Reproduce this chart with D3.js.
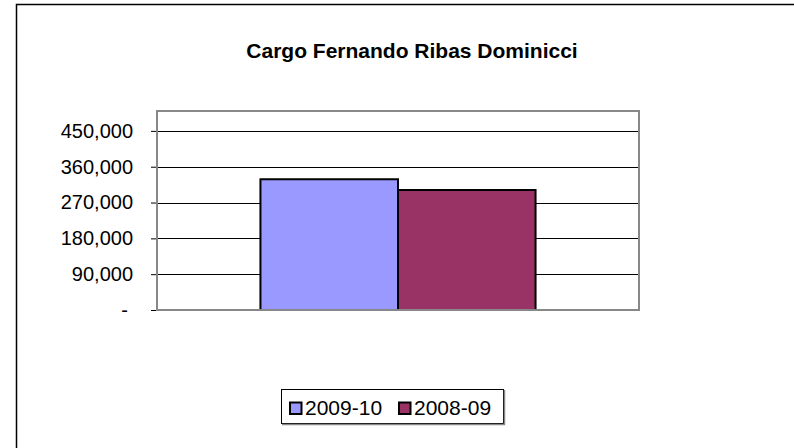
<!DOCTYPE html>
<meta charset="utf-8" />
<script src="https://d3js.org/d3.v7.min.js"></script>
<body style="margin:0;background:#fff">
  <div id="chart"></div>
  <script>
    // data
    var categories = ["Cargo"];
    var seriesNames = ["2009-10", "2008-09"];
    var seriesValues = [328500, 301500];
    var seriesColors = ["#9999ff", "#993366"];
    var yTicks = [0, 90000, 180000, 270000, 360000, 450000];

    var W = 794, H = 448;
    var plot = { left: 157, top: 111, right: 639, bottom: 310 };

    var svg = d3.select("#chart").append("svg")
      .attr("width", W).attr("height", H)
      .style("font-family", "'Liberation Sans', Arial, sans-serif");

    // outer chart border
    svg.append("rect")
      .attr("x", 16.5).attr("y", 4.5)
      .attr("width", 800).attr("height", 460)
      .attr("fill", "none").attr("stroke", "#000").attr("stroke-width", 1.5);

    svg.append("text")
      .attr("x", 412).attr("y", 58)
      .attr("text-anchor", "middle")
      .style("font-size", "21px").style("font-weight", "bold")
      .text("Cargo Fernando Ribas Dominicci");

    var y = d3.scaleLinear().domain([0, 500000]).range([plot.bottom, plot.top]);
    var x0 = d3.scaleBand().domain(categories).range([plot.left, plot.right]).paddingInner(0).paddingOuter(0.376);
    var x1 = d3.scaleBand().domain(seriesNames).range([0, x0.bandwidth()]);

    // gridlines
    svg.append("g").selectAll("line")
      .data(yTicks.filter(function (d) { return d > 0; }))
      .enter().append("line")
      .attr("x1", plot.left).attr("x2", plot.right)
      .attr("y1", function (d) { return Math.round(y(d)) + 0.5; })
      .attr("y2", function (d) { return Math.round(y(d)) + 0.5; })
      .attr("stroke", "#000").attr("stroke-width", 1);

    // y axis
    var yAxis = d3.axisLeft(y).tickValues(yTicks).tickSize(6).tickPadding(18)
      .tickFormat(function (d) { return d === 0 ? "-" : d3.format(",")(d); });
    var ga = svg.append("g").attr("transform", "translate(" + plot.left + ",0)").call(yAxis);
    ga.select(".domain").remove();
    ga.selectAll("line").attr("stroke", "#000");
    ga.selectAll("text").style("font-size", "20px").attr("fill", "#000");
    ga.selectAll(".tick").filter(function (d) { return d === 0; }).select("text").attr("dx", "-5");

    // bars
    svg.append("g").selectAll("rect")
      .data(seriesValues)
      .enter().append("rect")
      .attr("x", function (d, i) { return x0(categories[0]) + x1(seriesNames[i]); })
      .attr("y", function (d) { return y(d); })
      .attr("width", x1.bandwidth())
      .attr("height", function (d) { return plot.bottom - y(d); })
      .attr("fill", function (d, i) { return seriesColors[i]; })
      .attr("stroke", "#000").attr("stroke-width", 2);

    // plot area border
    svg.append("rect")
      .attr("x", plot.left).attr("y", plot.top)
      .attr("width", plot.right - plot.left).attr("height", plot.bottom - plot.top)
      .attr("fill", "none").attr("stroke", "#888").attr("stroke-width", 2);

    // legend
    var lg = svg.append("g");
    lg.append("rect")
      .attr("x", 281.5).attr("y", 389.5).attr("width", 222).attr("height", 34)
      .attr("fill", "#fff").attr("stroke", "#000").attr("stroke-width", 1);
    lg.append("line").attr("x1", 282).attr("x2", 505).attr("y1", 424.5).attr("y2", 424.5).attr("stroke", "#888").attr("stroke-width", 1.5);
    lg.append("line").attr("x1", 504.5).attr("x2", 504.5).attr("y1", 390).attr("y2", 425).attr("stroke", "#888").attr("stroke-width", 1.5);
    var items = lg.selectAll("g.item").data(seriesNames).enter().append("g")
      .attr("transform", function (d, i) { return "translate(" + (289 + i * 109) + ",0)"; });
    items.append("rect")
      .attr("x", 1).attr("y", 402.5).attr("width", 11.5).attr("height", 11.5)
      .attr("fill", function (d, i) { return seriesColors[i]; })
      .attr("stroke", "#000").attr("stroke-width", 2);
    items.append("text")
      .attr("x", 16).attr("y", 415)
      .style("font-size", "21px")
      .text(function (d) { return d; });
  </script>
</body>
